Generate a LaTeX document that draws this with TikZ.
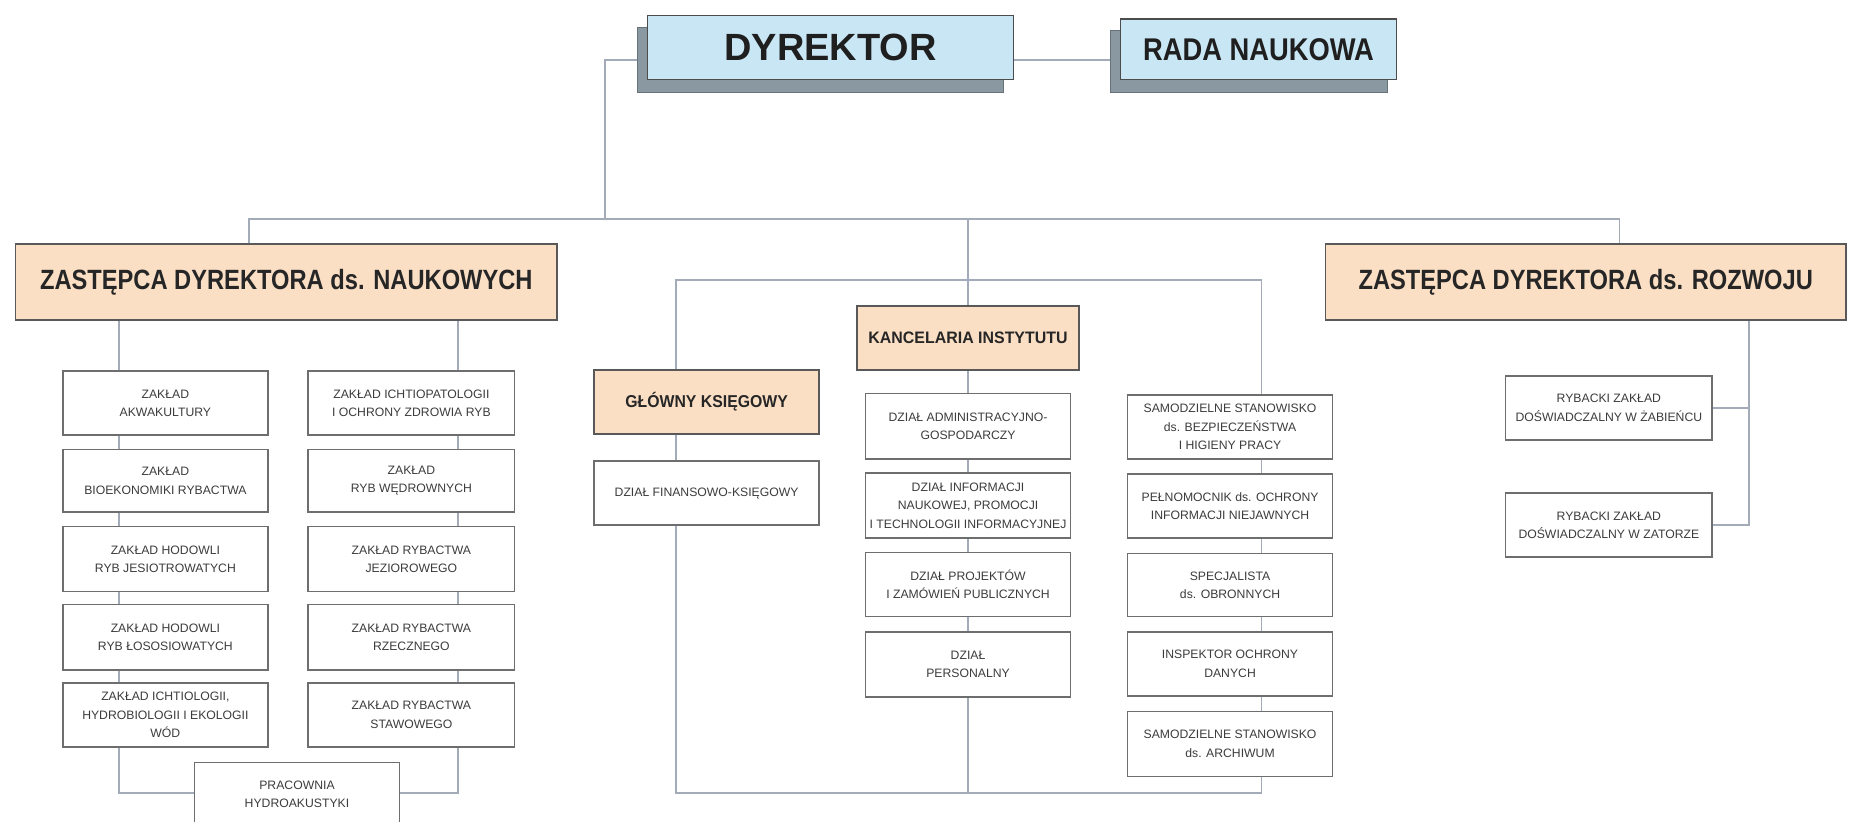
\documentclass[tikz,border=0pt]{standalone}
\usepackage{fontspec}
\usepackage{graphicx}
\setmainfont{Liberation Sans}
\usetikzlibrary{calc,backgrounds}
\definecolor{linec}{HTML}{A3AAB8}
\definecolor{boxline}{HTML}{6E6E6E}
\definecolor{peach}{HTML}{FBDFC4}
\definecolor{lblue}{HTML}{C8E6F4}
\definecolor{shadowc}{HTML}{8A98A2}
\definecolor{txt}{HTML}{3C3C3C}
\tikzset{
  conn/.style={draw=linec, line width=1.6pt},
  unit/.style={draw=boxline, line width=1.3pt, fill=white, text=txt, align=center,
    inner sep=0pt, font=\fontsize{10.3}{15.5}\selectfont},
  head/.style={draw=black!65, line width=1.5pt, fill=peach, text=black!85, inner sep=0pt},
  topb/.style={draw=black!70, line width=1.3pt, fill=lblue, text=black!88, inner sep=0pt},
  shade/.style={fill=shadowc, draw=shadowc!75!black, line width=0.8pt, inner sep=0pt},
}
\newcommand\ubox[7]{%
  \node[#1, minimum width={(#5-#3)*1pt}, minimum height={(#6-#4)*1pt}]
    (#2) at ({(#3+#5)/2},{(#4+#6)/2}) {#7};}
\begin{document}
\begin{tikzpicture}[x=1pt,y=-1pt]
\useasboundingbox (0,0) rectangle (1568,693);

% ---------- spine coordinates
\coordinate (busL) at (210,185);
\coordinate (busR) at (1366,185);
\coordinate (xD) at (510,0);
\coordinate (xA) at (100,0);
\coordinate (xB) at (386,0);
\coordinate (xL) at (570,0);
\coordinate (xS) at (1064,0);
\coordinate (xR) at (1475,0);
\coordinate (yTop) at (0,236);
\coordinate (yBot) at (0,669);

% ---------- top boxes
\ubox{shade}{dyrs}{538}{23}{846}{78}{}
\ubox{topb}{dyr}{546}{13}{855}{67}{\fontsize{32}{32}\selectfont\bfseries DYREKTOR}
\ubox{shade}{radas}{937}{26}{1170}{78}{}
\ubox{topb}{rada}{945}{16}{1178}{67}{\fontsize{26.5}{26}\selectfont\bfseries\scalebox{0.87}[1]{RADA NAUKOWA}}

% ---------- deputies and heads
\ubox{head}{zn}{13}{206}{470}{270}{\fontsize{23.5}{24}\selectfont\bfseries\scalebox{0.85}[1]{ZASTĘPCA DYREKTORA ds. NAUKOWYCH}}
\ubox{head}{zr}{1118}{206}{1557}{270}{\fontsize{23.5}{24}\selectfont\bfseries\scalebox{0.85}[1]{ZASTĘPCA DYREKTORA ds. ROZWOJU}}
\ubox{head}{kanc}{723}{258}{910}{312}{\fontsize{14}{14}\selectfont\bfseries\scalebox{0.96}[1]{KANCELARIA INSTYTUTU}}
\ubox{head}{glow}{501}{312}{691}{366}{\fontsize{14.5}{14}\selectfont\bfseries\scalebox{0.92}[1]{GŁÓWNY KSIĘGOWY}}

% ---------- left columns
\ubox{unit}{a1}{53}{313}{226}{367}{ZAKŁAD\\AKWAKULTURY}
\ubox{unit}{a2}{53}{379}{226}{432}{ZAKŁAD\\BIOEKONOMIKI RYBACTWA}
\ubox{unit}{a3}{53}{444}{226}{499}{ZAKŁAD HODOWLI\\RYB JESIOTROWATYCH}
\ubox{unit}{a4}{53}{510}{226}{565}{ZAKŁAD HODOWLI\\RYB ŁOSOSIOWATYCH}
\ubox{unit}{a5}{53}{576}{226}{630}{ZAKŁAD ICHTIOLOGII,\\HYDROBIOLOGII I EKOLOGII\\WÓD}
\ubox{unit}{b1}{260}{313}{434}{367}{ZAKŁAD ICHTIOPATOLOGII\\I OCHRONY ZDROWIA RYB}
\ubox{unit}{b2}{260}{379}{434}{432}{ZAKŁAD\\RYB WĘDROWNYCH}
\ubox{unit}{b3}{260}{444}{434}{499}{ZAKŁAD RYBACTWA\\JEZIOROWEGO}
\ubox{unit}{b4}{260}{510}{434}{565}{ZAKŁAD RYBACTWA\\RZECZNEGO}
\ubox{unit}{b5}{260}{576}{434}{630}{ZAKŁAD RYBACTWA\\STAWOWEGO}
\ubox{unit}{prac}{164}{643}{337}{697}{PRACOWNIA\\HYDROAKUSTYKI}

% ---------- middle
\ubox{unit}{fin}{501}{389}{691}{443}{DZIAŁ FINANSOWO-KSIĘGOWY}
\ubox{unit}{d1}{730}{332}{903}{387}{DZIAŁ ADMINISTRACYJNO-\\GOSPODARCZY}
\ubox{unit}{d2}{730}{399}{903}{454}{DZIAŁ INFORMACJI\\NAUKOWEJ, PROMOCJI\\I TECHNOLOGII INFORMACYJNEJ}
\ubox{unit}{d3}{730}{466}{903}{520}{DZIAŁ PROJEKTÓW\\I ZAMÓWIEŃ PUBLICZNYCH}
\ubox{unit}{d4}{730}{533}{903}{588}{DZIAŁ\\PERSONALNY}
\ubox{unit}{s1}{951}{333}{1124}{387}{SAMODZIELNE STANOWISKO\\ds. BEZPIECZEŃSTWA\\I HIGIENY PRACY}
\ubox{unit}{s2}{951}{400}{1124}{454}{PEŁNOMOCNIK ds. OCHRONY\\INFORMACJI NIEJAWNYCH}
\ubox{unit}{s3}{951}{467}{1124}{520}{SPECJALISTA\\ds. OBRONNYCH}
\ubox{unit}{s4}{951}{533}{1124}{587}{INSPEKTOR OCHRONY\\DANYCH}
\ubox{unit}{s5}{951}{600}{1124}{655}{SAMODZIELNE STANOWISKO\\ds. ARCHIWUM}

% ---------- right
\ubox{unit}{r1}{1270}{317}{1444}{371}{RYBACKI ZAKŁAD\\DOŚWIADCZALNY W ŻABIEŃCU}
\ubox{unit}{r2}{1270}{416}{1444}{470}{RYBACKI ZAKŁAD\\DOŚWIADCZALNY W ZATORZE}

% ---------- connectors behind the boxes
\begin{scope}[on background layer]
\fill[white] (0,0) rectangle (1568,693);
\draw[conn] (dyrs.west) -| (xD |- busL);
\draw[conn] (dyr.east |- dyrs.west) -- (radas.west |- dyrs.west);
\draw[conn] (zn.north -| busL) -- (busL) -- (busR) -- (zr.north -| busR);
\draw[conn] (kanc.north |- busL) -- (kanc.north);
\draw[conn] (kanc.south) -- (kanc.south |- yBot);
\draw[conn] (xL |- yTop) rectangle (xS |- yBot);
\draw[conn] (zn.south -| xA) -- (xA |- yBot) -- (xB |- yBot) -- (zn.south -| xB);
\draw[conn] (zr.south -| xR) |- (r2.east);
\draw[conn] (r1.east) -- (r1.east -| xR);
\end{scope}
\end{tikzpicture}
\end{document}
